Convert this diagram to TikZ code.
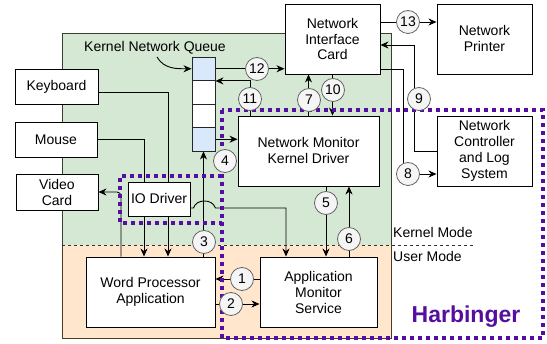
\documentclass[tikz,border=0pt]{standalone}
\usepackage{fontspec}
\setmainfont{Liberation Sans}
\usetikzlibrary{arrows.meta}
\definecolor{kgreen}{HTML}{D5E8D4}
\definecolor{korange}{HTML}{FFE6CC}
\definecolor{kblue}{HTML}{DAE8FC}
\definecolor{gborder}{RGB}{55,65,45}
\definecolor{oborder}{RGB}{75,60,35}
\definecolor{harb}{RGB}{85,15,160}
\definecolor{cfill}{RGB}{245,245,245}
\definecolor{cdraw}{RGB}{100,100,100}
\pgfdeclarelayer{back}
\pgfdeclarelayer{lines}
\pgfdeclarelayer{dots}
\pgfsetlayers{back,lines,dots,main}
\tikzset{
  every node/.style={font=\fontsize{14}{16}\selectfont},
  box/.style={draw=black, fill=white, line width=0.9pt, align=center, inner sep=0pt},
  qcell/.style={draw=black!85, line width=0.9pt, minimum width=23pt, minimum height=23.5pt, inner sep=0pt},
  num/.style={circle, draw=cdraw, fill=cfill, line width=0.8pt, minimum size=23pt, inner sep=0pt},
  arr/.style={-{Stealth[length=8pt,width=7pt,inset=2.5pt]}, line width=0.9pt, draw=black},
  plain/.style={line width=0.9pt, draw=black},
  harbline/.style={draw=harb, line width=3.6pt, dash pattern=on 4pt off 4pt},
}
\begin{document}
\begin{tikzpicture}[x=1pt,y=-1pt]
\useasboundingbox (0,0) rectangle (547,344);

% boxes
\node[box, minimum width=83pt, minimum height=35pt] (kb) at (56.5,86.5) {Keyboard};
\node[box, minimum width=82pt, minimum height=35pt] (ms) at (56,139.5) {Mouse};
\node[box, minimum width=82pt, minimum height=36pt] (vc) at (57,192) {Video\\Card};
\node[box, minimum width=62pt, minimum height=34pt] (iod) at (159,199) {IO Driver};
\node[box, minimum width=129pt, minimum height=70pt] (wpa) at (150.5,292) {Word Processor\\Application};
\node[box, minimum width=117pt, minimum height=70pt] (ams) at (318.5,292) {Application\\Monitor\\Service};
\node[box, minimum width=141pt, minimum height=70pt] (nmkd) at (308.5,151) {Network Monitor\\Kernel Driver};
\node[box, minimum width=95pt, minimum height=70pt] (nic) at (332.5,39) {Network\\Interface\\Card};
\node[box, minimum width=95pt, minimum height=70pt] (prn) at (484.5,39) {Network\\Printer};
\node[box, minimum width=95pt, minimum height=70pt] (ncls) at (484.5,151) {Network\\Controller\\and Log\\System};

% queue
\node[qcell, fill=kblue] (q1) at (203.5,68.75) {};
\node[qcell, fill=white] (q2) at (203.5,92.25) {};
\node[qcell, fill=white] (q3) at (203.5,115.75) {};
\node[qcell, fill=kblue] (q4) at (203.5,139.25) {};

% texts
\node (qlabel) at (155,48) {Kernel Network Queue};
\node[anchor=west, inner sep=0pt] (km) at (393,232) {Kernel Mode};
\node[anchor=west, inner sep=0pt] (um) at (393,256) {User Mode};
\node[anchor=base, inner sep=0pt, text=harb, font=\fontsize{23}{26}\selectfont\bfseries] (harbt) at (466,323) {Harbinger};

\coordinate (qarr) at (157,57);
\coordinate (c9) at (414,45);
\coordinate (c8) at (403,174);

% regions
\begin{pgfonlayer}{back}
  \fill[kgreen] (62,33) rectangle (391,245);
  \fill[korange] (62,245) rectangle (391,338);
  \draw[gborder, line width=0.9pt] (62,245) -- (62,33) -- (391,33) -- (391,245);
  \draw[oborder, line width=0.9pt] (62,245) -- (62,338) -- (391,338) -- (391,245);
  \draw[black!80, line width=0.9pt, dash pattern=on 3pt off 3pt] (62,245) -- (473,245);
\end{pgfonlayer}

% connectors
\begin{pgfonlayer}{lines}
  \draw[arr] ([yshift=-5.5pt]kb.east) -| ([xshift=17.5pt]wpa.north);
  \draw[arr] (ms.east) -| ([xshift=-6.5pt]wpa.north);
  \draw[arr, rounded corners=4pt] ([xshift=-29.5pt]wpa.north) |- (vc.east);
  \draw[arr] (wpa.north -| q4.south) -- (q4.south);
  \draw[arr] ([yshift=-9pt]iod.east) -- ++(3,0) to[out=70,in=180] ++(11,-7) to[out=0,in=110] ++(11,7) -| ([xshift=-32.5pt]ams.north);
  \draw[arr] ([yshift=13pt]ams.west) -- ([yshift=13pt]ams.west -| wpa.east);
  \draw[arr] ([yshift=-12pt]wpa.east) -- ([yshift=-12pt]wpa.east -| ams.west);
  \draw[arr] ([xshift=17.5pt]nmkd.south) -- ([xshift=17.5pt]nmkd.south |- ams.north);
  \draw[arr] ([xshift=40.5pt]nmkd.south |- ams.north) -- ([xshift=40.5pt]nmkd.south);
  \draw[arr] (q4.east) -- (q4.east -| nmkd.west);
  \draw[arr] (nmkd.north) -- (nmkd.north |- nic.south);
  \draw[arr] (nic.south) -- (nic.south |- nmkd.north);
  \draw[arr] ([xshift=-58.5pt]nmkd.north) |- (q1.south east);
  \draw[arr] (q1.east) -- (q1.east -| nic.west);
  \draw[arr] ([yshift=17pt]nic.east) -- ([yshift=17pt]nic.east -| prn.west);
  \draw[arr] (ncls.west) -| (c9) -- (c9 -| nic.east);
  \draw[arr] ([yshift=-30pt]nic.east) -| (c8) -- (c8 -| ncls.west);
  \draw[arr] (qarr) to[out=-60,in=180] (q1.west);
\end{pgfonlayer}

% harbinger outline
\begin{pgfonlayer}{dots}
  \draw[harbline] (222,110) rectangle (543,338);
  \draw[harbline] (222,176) -- (120,176) -- (120,223) -- (222,223);
\end{pgfonlayer}

% numbered circles
\node[num] (n1) at (242,279) {1};
\node[num] (n2) at (231,304) {2};
\node[num] (n3) at (204,242) {3};
\node[num] (n4) at (225,161) {4};
\node[num] (n5) at (326,203) {5};
\node[num] (n6) at (349,239) {6};
\node[num] (n7) at (309,100) {7};
\node[num] (n8) at (408,174) {8};
\node[num] (n9) at (419,99) {9};
\node[num] (n10) at (333,90) {10};
\node[num] (n11) at (250,99) {11};
\node[num] (n12) at (257,69) {12};
\node[num] (n13) at (408,22) {13};
\end{tikzpicture}
\end{document}
